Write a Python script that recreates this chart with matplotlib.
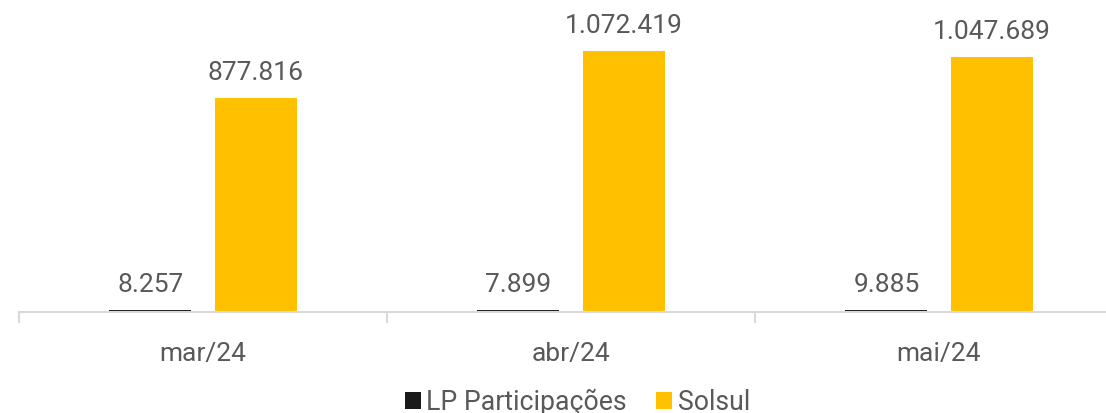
import numpy as np
import matplotlib.pyplot as plt

plt.rcParams['font.family'] = ['Roboto', 'DejaVu Sans']

# dados
meses = ['mar/24', 'abr/24', 'mai/24']
lp_participacoes = [8257, 7899, 9885]
solsul = [877816, 1072419, 1047689]

def fmt(v):
    return f'{v:,}'.replace(',', '.')

cor_texto = '#595959'
x = np.arange(len(meses))
largura = 0.223
desloc = 0.143

fig = plt.figure(figsize=(11.06, 4.14), dpi=100)
ax = fig.add_axes([19 / 1106, 101 / 414, 1087 / 1106, 313 / 414])

b1 = ax.bar(x - desloc, lp_participacoes, largura, color='#1a1a1a', label='LP Participações')
b2 = ax.bar(x + desloc, solsul, largura, color='#FFC000', label='Solsul')

for barras, vals in [(b1, lp_participacoes), (b2, solsul)]:
    for b, v in zip(barras, vals):
        ax.annotate(fmt(v), (b.get_x() + b.get_width() / 2, b.get_height()),
                    xytext=(0, 10), textcoords='offset points',
                    ha='center', va='bottom', fontsize=19, color=cor_texto)

ax.set_ylim(0, 1285000)
ax.set_xlim(-0.5, -0.5 + 1087 / 368)

for lado in ['top', 'right', 'left']:
    ax.spines[lado].set_visible(False)
ax.spines['bottom'].set_color('#d9d9d9')
ax.spines['bottom'].set_linewidth(1.5)
ax.set_yticks([])

ax.set_xticks(x)
ax.set_xticklabels(meses, fontsize=19, color=cor_texto)
ax.tick_params(axis='x', which='major', length=0, pad=21)
ax.set_xticks([-0.5, 0.5, 1.5], minor=True)
ax.tick_params(axis='x', which='minor', length=8, width=1.5, color='#d9d9d9')

fig.legend(loc='lower center', bbox_to_anchor=(0.522, -0.064), ncol=2, frameon=False,
           fontsize=19.2, labelcolor=cor_texto, handlelength=0.6, handleheight=0.6,
           handletextpad=0.2, columnspacing=1.1)

fig.savefig('out.png', dpi=100)
